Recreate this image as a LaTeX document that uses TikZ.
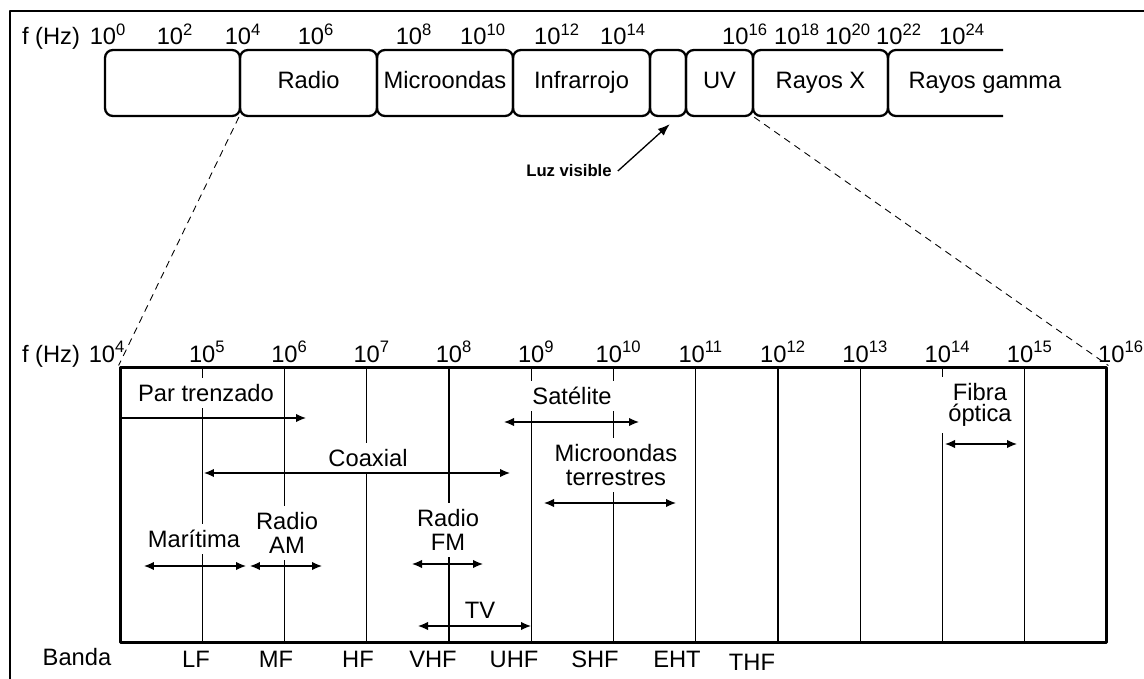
\documentclass[tikz,border=0pt]{standalone}
\usepackage{fontspec}
\setmainfont{Liberation Sans}
\usetikzlibrary{arrows.meta}

\tikzset{
  band/.style={draw, line width=1.3pt, rounded corners=4.5pt, minimum height=1.32cm, inner sep=0pt, text height=1.5ex, text depth=.25ex},
  tag/.style={fill=white, align=center, inner sep=3.5pt},
  gridline/.style={line width=0.7pt},
  span/.style={line width=0.75pt, {Latex[length=0.2cm,width=0.17cm]}-{Latex[length=0.2cm,width=0.17cm]}},
  expo/.style={anchor=base, inner sep=0pt}
}

\begin{document}
\begin{tikzpicture}[x=0.02cm, y=-0.02cm, font=\fontsize{13.5}{13.6}\selectfont, line join=round]
  \useasboundingbox (0,0) rectangle (1144,679);
  % outer frame
  \draw[line width=1.7pt] (1160,11) -| (10,700);

  % spectrum strip
  \node[band, minimum width=2.7cm] (b0) at (172.5,83) {};
  \node[band, minimum width=2.74cm] (radio) at (308.5,83) {Radio};
  \node[band, minimum width=2.72cm] (micro) at (445,83) {Microondas};
  \node[band, minimum width=2.74cm] (ir) at (581.5,83) {Infrarrojo};
  \node[band, minimum width=0.72cm] (vis) at (668,83) {};
  \node[band, minimum width=1.34cm] (uv) at (719.5,83) {UV};
  \node[band, minimum width=2.7cm] (xray) at (820.5,83) {Rayos X};
  \draw[line width=1.3pt, rounded corners=4.5pt] (1003,50) -| (888,116) -- (1003,116);
  \node[text height=1.5ex, text depth=.25ex] (gamma) at (985,83) {Rayos gamma};

  \node[expo] (fhz) at (51,45) {f (Hz)};
  \foreach \e/\x in {0/108, 2/175, 4/243, 6/316, 8/414, 10/483, 12/557, 14/623, 16/745, 18/797, 20/848, 22/899, 24/962}
    \node[expo] (t\e) at (\x,45) {10\textsuperscript{\e}};

  \node[font=\fontsize{9.5}{11}\selectfont\bfseries] (luz) at (569,171) {Luz visible};
  \draw[line width=0.75pt, -{Latex[length=0.24cm,width=0.18cm]}] (luz.east) -- ([xshift=1pt,yshift=-4pt]vis.south);

  % radio range
  \node[draw, line width=1.7pt, minimum width=19.74cm, minimum height=5.52cm, inner sep=0pt] (chart) at (613.5,505) {};
  \draw[dashed, dash pattern=on 4pt off 3pt, line width=0.5pt] (radio.south west) -- (chart.north west);
  \draw[dashed, dash pattern=on 4pt off 3pt, line width=0.5pt] (uv.south east) -- (chart.north east);

  \foreach \i in {1,...,11}
    \draw[gridline] ({120+82.25*\i},367) -- ({120+82.25*\i},643);

  \node[expo] (fhz2) at (51,362) {f (Hz)};
  \node[expo] (d4) at (107,362) {10\textsuperscript{4}};
  \foreach \e [count=\i] in {5,...,15}
    \node[expo] (d\e) at ({120+82.25*\i+5},362) {10\textsuperscript{\e}};
  \node[expo] (d16) at (1121,362) {10\textsuperscript{16}};

  % uses
  \node[tag] (par) at (206,393) {Par trenzado};
  \node[tag] (coax) at (368,458) {Coaxial};
  \node[tag] (sat) at (572,396) {Satélite};
  \node[tag] (mwt) at (616,465) {Microondas\\terrestres};
  \node[tag, minimum width=1.6cm, font=\fontsize{13.5}{12}\selectfont] (fibra) at (980,405) {Fibra\\óptica};
  \node[tag] (mar) at (194,539) {Marítima};
  \node[tag] (am) at (287,533) {Radio\\AM};
  \node[tag] (fm) at (448,530) {Radio\\FM};
  \node[tag] (tv) at (480,610) {TV};

  \draw[line width=0.75pt, -{Latex[length=0.2cm,width=0.17cm]}] (120,418) -- (306,418);
  \draw[span] (204,473) -- (510,473);
  \draw[span] (504,422) -- (639,422);
  \draw[span] (544,503) -- (676,503);
  \draw[span] (945,444) -- (1017,444);
  \draw[span] (144,566) -- (246,566);
  \draw[span] (250,566) -- (322,566);
  \draw[span] (412,564) -- (483,564);
  \draw[span] (418,626) -- (531,626);

  % bands
  \node[expo] (banda) at (77,665) {Banda};
  \foreach \b/\x in {LF/196, MF/276, HF/358, VHF/433, UHF/514, SHF/595, EHT/677}
    \node[expo] (\b) at (\x,667) {\b};
  \node[expo] (THF) at (752,670) {THF};
\end{tikzpicture}
\end{document}
